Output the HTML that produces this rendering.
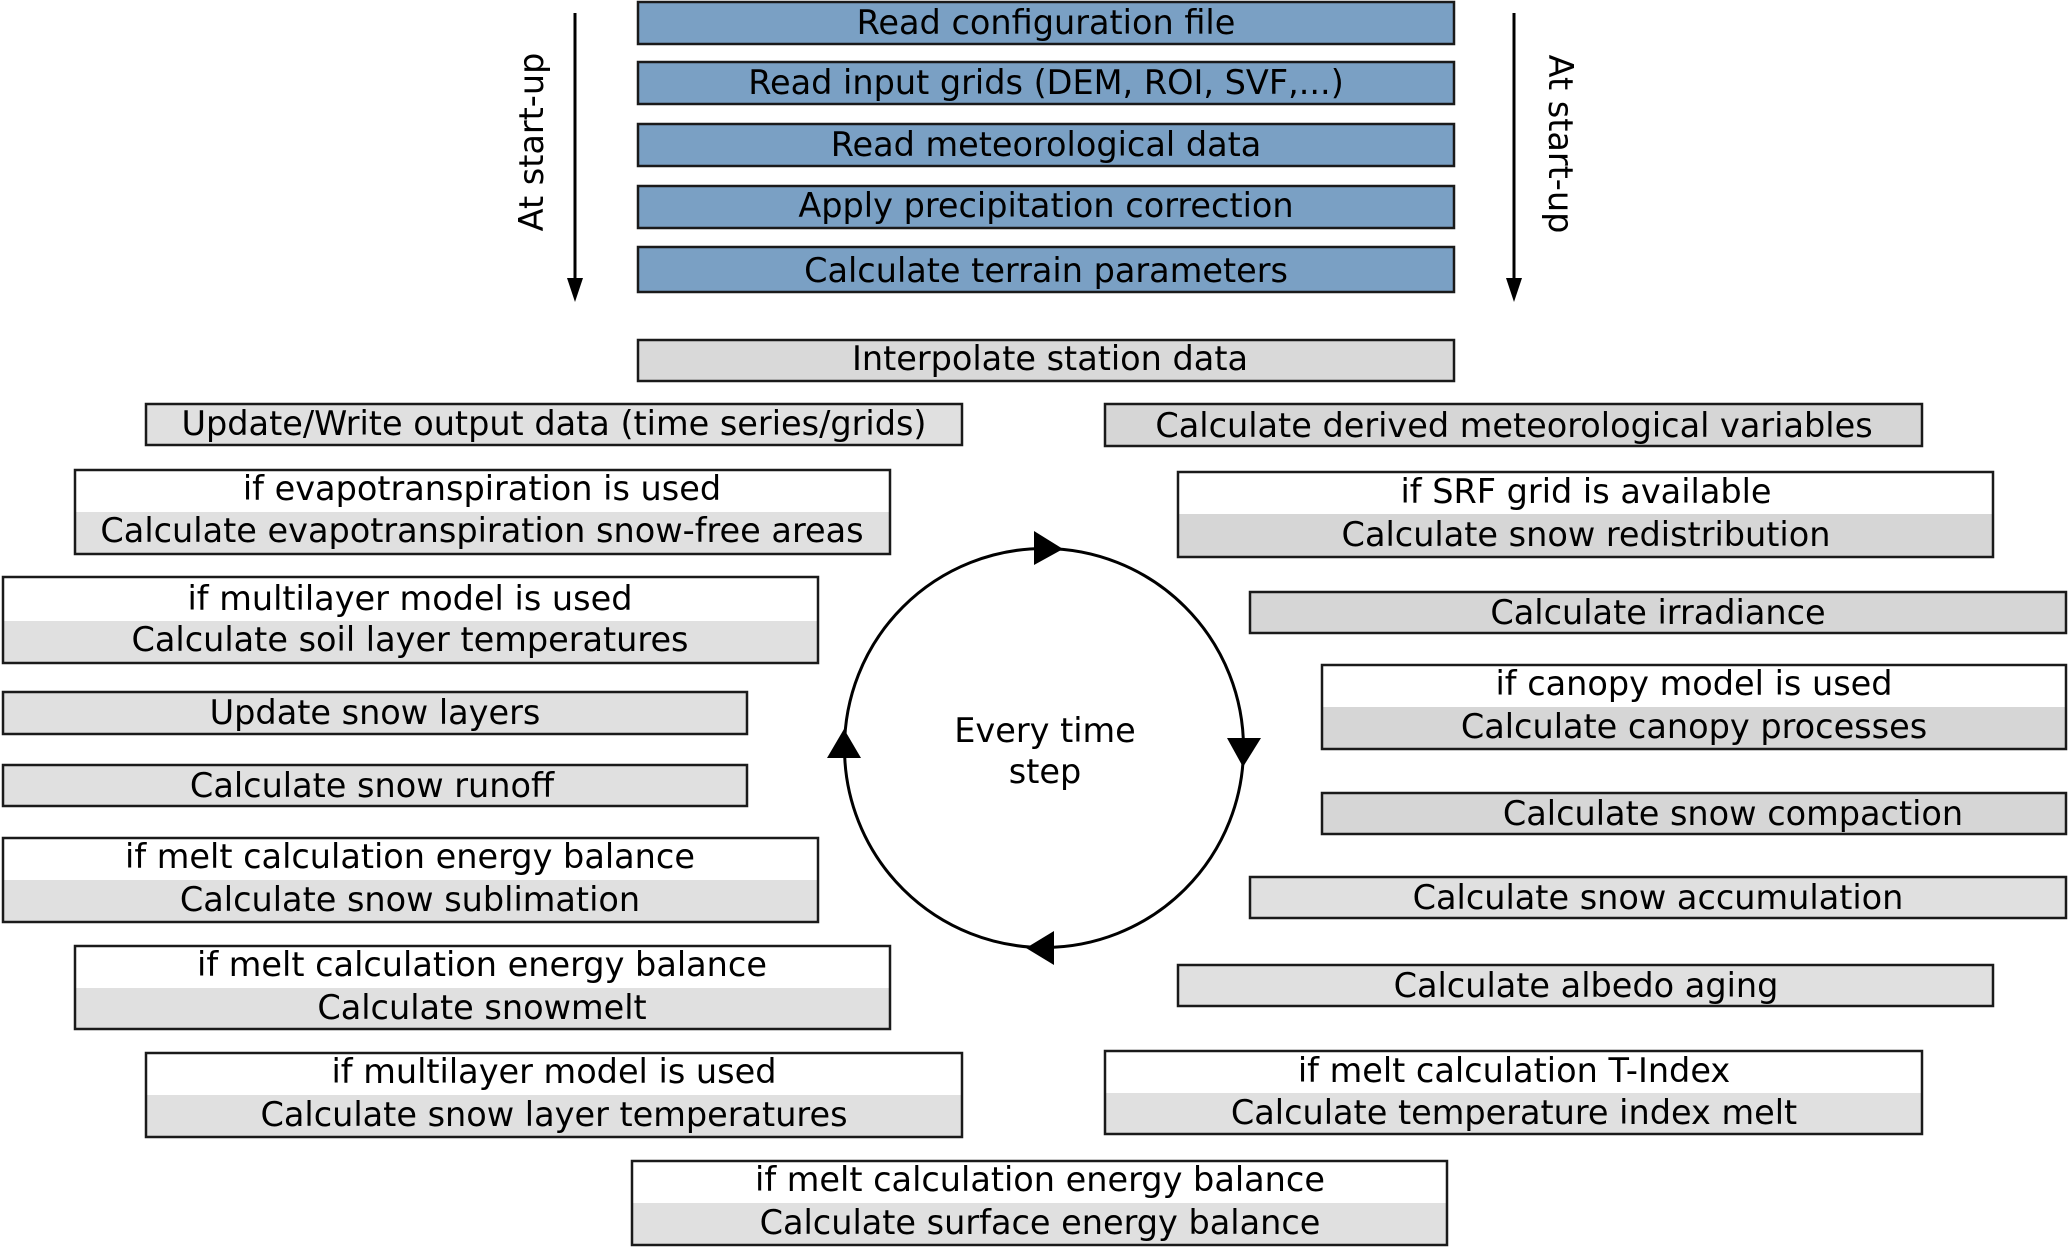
<!DOCTYPE html>
<html><head><meta charset="utf-8"><style>
html,body{margin:0;padding:0;background:#fff;}
svg{display:block;}
text{font-family:"DejaVu Sans","Liberation Sans",sans-serif;font-size:33.5px;fill:#000;}
</style></head><body>
<svg width="2068" height="1248" viewBox="0 0 2068 1248" xmlns="http://www.w3.org/2000/svg">
<g stroke="#1a1a1a" stroke-width="2.5">
<rect x="638" y="2" width="816" height="42" fill="#7aa0c4"/>
<rect x="638" y="62" width="816" height="42" fill="#7aa0c4"/>
<rect x="638" y="124" width="816" height="42" fill="#7aa0c4"/>
<rect x="638" y="186" width="816" height="42" fill="#7aa0c4"/>
<rect x="638" y="247" width="816" height="45" fill="#7aa0c4"/>
<rect x="638" y="340" width="816" height="41" fill="#d9d9d9"/>
<rect x="146" y="404" width="816" height="41" fill="#e0e0e0"/>
<rect x="3" y="692" width="744" height="42" fill="#e0e0e0"/>
<rect x="3" y="765" width="744" height="41" fill="#e0e0e0"/>
<rect x="1105" y="404" width="817" height="42" fill="#d6d6d6"/>
<rect x="1250" y="592" width="816" height="41" fill="#d6d6d6"/>
<rect x="1322" y="793" width="744" height="41" fill="#d6d6d6"/>
<rect x="1250" y="877" width="816" height="41" fill="#e0e0e0"/>
<rect x="1178" y="965" width="815" height="41" fill="#e0e0e0"/>
</g>
<g>
<rect x="75" y="470" width="815" height="42" fill="#fff"/><rect x="75" y="512" width="815" height="42" fill="#e0e0e0"/>
<rect x="3" y="577" width="815" height="44" fill="#fff"/><rect x="3" y="621" width="815" height="42" fill="#e0e0e0"/>
<rect x="3" y="838" width="815" height="42" fill="#fff"/><rect x="3" y="880" width="815" height="42" fill="#e0e0e0"/>
<rect x="75" y="946" width="815" height="42" fill="#fff"/><rect x="75" y="988" width="815" height="41" fill="#e0e0e0"/>
<rect x="146" y="1053" width="816" height="42" fill="#fff"/><rect x="146" y="1095" width="816" height="42" fill="#e0e0e0"/>
<rect x="632" y="1161" width="815" height="42" fill="#fff"/><rect x="632" y="1203" width="815" height="42" fill="#e0e0e0"/>
<rect x="1178" y="472" width="815" height="42" fill="#fff"/><rect x="1178" y="514" width="815" height="43" fill="#d6d6d6"/>
<rect x="1322" y="665" width="744" height="42" fill="#fff"/><rect x="1322" y="707" width="744" height="42" fill="#d6d6d6"/>
<rect x="1105" y="1051" width="817" height="42" fill="#fff"/><rect x="1105" y="1093" width="817" height="41" fill="#e0e0e0"/>
</g>
<g fill="none" stroke="#1a1a1a" stroke-width="2.5">
<rect x="75" y="470" width="815" height="84"/>
<rect x="3" y="577" width="815" height="86"/>
<rect x="3" y="838" width="815" height="84"/>
<rect x="75" y="946" width="815" height="83"/>
<rect x="146" y="1053" width="816" height="84"/>
<rect x="632" y="1161" width="815" height="84"/>
<rect x="1178" y="472" width="815" height="85"/>
<rect x="1322" y="665" width="744" height="84"/>
<rect x="1105" y="1051" width="817" height="83"/>
</g>
<g text-anchor="middle">
<text x="1046" y="34">Read configuration file</text>
<text x="1046" y="94">Read input grids (DEM, ROI, SVF,...)</text>
<text x="1046" y="156">Read meteorological data</text>
<text x="1046" y="217">Apply precipitation correction</text>
<text x="1046" y="282">Calculate terrain parameters</text>
<text x="1050" y="370">Interpolate station data</text>
<text x="554" y="435">Update/Write output data (time series/grids)</text>
<text x="482" y="500">if evapotranspiration is used</text>
<text x="482" y="542">Calculate evapotranspiration snow-free areas</text>
<text x="410" y="610">if multilayer model is used</text>
<text x="410" y="651">Calculate soil layer temperatures</text>
<text x="375" y="724">Update snow layers</text>
<text x="372" y="797">Calculate snow runoff</text>
<text x="410" y="868">if melt calculation energy balance</text>
<text x="410" y="911">Calculate snow sublimation</text>
<text x="482" y="976">if melt calculation energy balance</text>
<text x="482" y="1019">Calculate snowmelt</text>
<text x="554" y="1083">if multilayer model is used</text>
<text x="554" y="1126">Calculate snow layer temperatures</text>
<text x="1040" y="1191">if melt calculation energy balance</text>
<text x="1040" y="1234">Calculate surface energy balance</text>
<text x="1514" y="437">Calculate derived meteorological variables</text>
<text x="1586" y="503">if SRF grid is available</text>
<text x="1586" y="546">Calculate snow redistribution</text>
<text x="1658" y="624">Calculate irradiance</text>
<text x="1694" y="695">if canopy model is used</text>
<text x="1694" y="738">Calculate canopy processes</text>
<text x="1733" y="825">Calculate snow compaction</text>
<text x="1658" y="909">Calculate snow accumulation</text>
<text x="1586" y="997">Calculate albedo aging</text>
<text x="1514" y="1082">if melt calculation T-Index</text>
<text x="1514" y="1124">Calculate temperature index melt</text>
<text x="1045" y="742">Every time</text>
<text x="1045" y="783">step</text>
</g>
<line x1="575" y1="13" x2="575" y2="285" stroke="#000" stroke-width="3"/>
<polygon points="567,278 583,278 575,302" fill="#000"/>
<line x1="1514" y1="13" x2="1514" y2="285" stroke="#000" stroke-width="3"/>
<polygon points="1506,278 1522,278 1514,302" fill="#000"/>
<text x="0" y="0" text-anchor="middle" transform="translate(543,142) rotate(-90)">At start-up</text>
<text x="0" y="0" text-anchor="middle" transform="translate(1549,144) rotate(90)">At start-up</text>
<circle cx="1044" cy="748" r="199.5" fill="none" stroke="#000" stroke-width="3"/>
<polygon points="1034,531 1034,565 1063,549" fill="#000"/>
<polygon points="1227,738 1261,738 1243,767" fill="#000"/>
<polygon points="1054,931 1054,965 1026,948" fill="#000"/>
<polygon points="827,758 861,758 844,729" fill="#000"/>
</svg>
</body></html>
